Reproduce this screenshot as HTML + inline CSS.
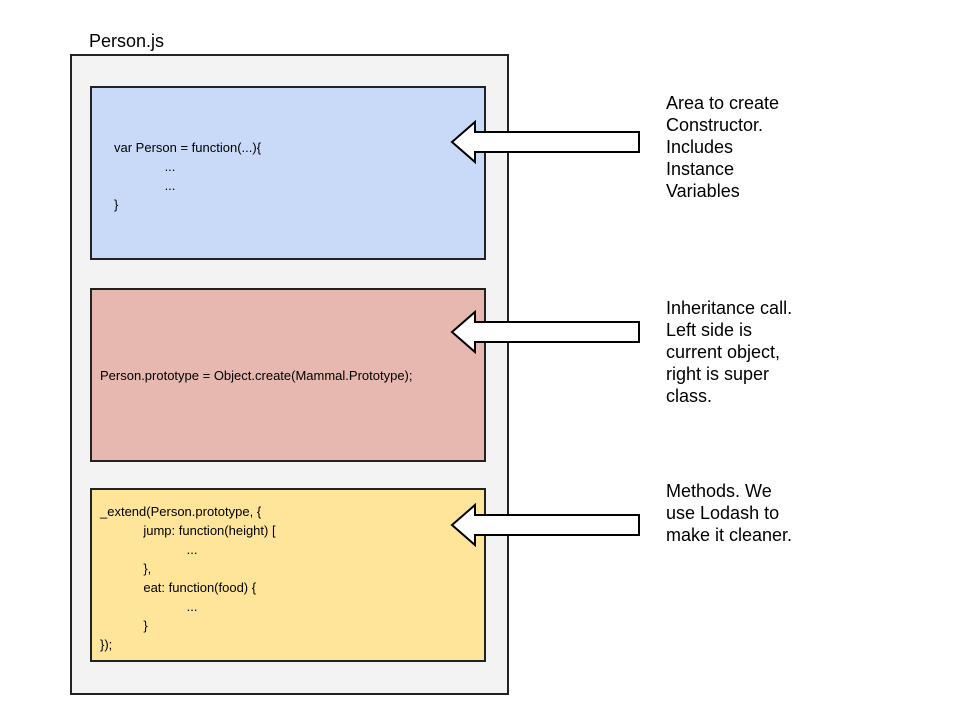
<!DOCTYPE html>
<html><head><style>
body{margin:0;width:960px;height:720px;background:#fff;position:relative;font-family:"Liberation Sans",Arial,sans-serif;overflow:hidden}
.a{position:absolute}
.box{position:absolute;border:2px solid #222;box-sizing:border-box}
.code{font-size:13px;line-height:19px;color:#000;white-space:pre}
.note{font-size:18px;line-height:22px;color:#000}
</style></head><body>
<div class="a" style="left:89px;top:31px;font-size:18px">Person.js</div>
<div class="box" style="left:70px;top:54px;width:439px;height:641px;background:#f3f3f3"></div>
<div class="box" style="left:90px;top:86px;width:396px;height:174px;background:#c9daf8"></div>
<div class="box" style="left:90px;top:288px;width:396px;height:174px;background:#e6b8af"></div>
<div class="box" style="left:90px;top:488px;width:396px;height:174px;background:#ffe599"></div>
<div class="a code" style="left:114px;top:138px">var Person = function(...){
              ...
              ...
}</div>
<div class="a code" style="left:100px;top:366px">Person.prototype = Object.create(Mammal.Prototype);</div>
<div class="a code" style="left:100px;top:502px">_extend(Person.prototype, {
            jump: function(height) [
                        ...
            },
            eat: function(food) {
                        ...
            }
});</div>
<svg class="a" style="left:0;top:0" width="960" height="720">
<g fill="#fff" stroke="#000" stroke-width="2">
<polygon points="452,142 475,122 475,132 639,132 639,152 475,152 475,162"/>
<polygon points="452,332 475,312 475,322 639,322 639,342 475,342 475,352"/>
<polygon points="452,525 475,505 475,515 639,515 639,535 475,535 475,545"/>
</g></svg>
<div class="a note" style="left:666px;top:92px">Area to create<br>Constructor.<br>Includes<br>Instance<br>Variables</div>
<div class="a note" style="left:666px;top:297px">Inheritance call.<br>Left side is<br>current object,<br>right is super<br>class.</div>
<div class="a note" style="left:666px;top:480px">Methods. We<br>use Lodash to<br>make it cleaner.</div>
</body></html>
